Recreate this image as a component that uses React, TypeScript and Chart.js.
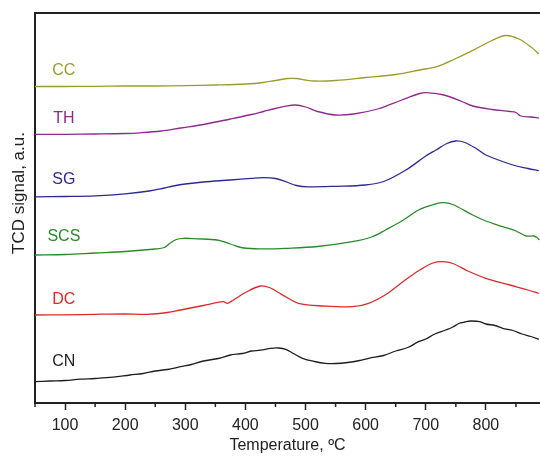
import { useEffect, useRef } from "react";
import { Chart, registerables } from "chart.js";
Chart.register(...registerables);

const majorTicks = [100, 200, 300, 400, 500, 600, 700, 800];
const minorTicks = [50, 150, 250, 350, 450, 550, 650, 750, 850];

const ccT = [50, 100, 150, 200, 250, 300, 350, 400, 430, 450, 470, 485, 500, 515, 550, 600, 650, 690, 720, 750, 780, 810, 833, 855, 875, 888];
const ccY = [316.5, 316.5, 316.7, 317, 317, 317.4, 318, 319, 320.5, 322.5, 324.5, 324.5, 323, 322, 322.5, 325.5, 328.5, 333, 336.7, 344.5, 353.2, 362.5, 367.5, 364, 356, 349];

const thT = [50, 100, 150, 200, 225, 260, 292, 330, 375, 410, 430, 450, 467, 483, 500, 520, 550, 580, 620, 660, 690, 705, 730, 760, 778, 810, 840, 850, 858, 875, 888];
const thY = [268.7, 268.7, 269, 269.5, 270.2, 272, 275, 278.5, 284, 288.5, 291.5, 294.5, 296.8, 298, 296, 291.5, 288, 289, 294, 303, 309.5, 310.2, 308, 301.5, 297, 293.5, 291.5, 290.5, 287, 286, 285];

const sgT = [50, 100, 150, 200, 240, 265, 280, 300, 330, 375, 410, 430, 450, 467, 485, 505, 550, 600, 630, 667, 700, 717, 735, 750, 765, 785, 800, 845, 870, 888];
const sgY = [206.2, 206.5, 207.2, 209.2, 212, 215, 217, 219, 221, 223, 224.7, 225.4, 224.5, 221.3, 217.5, 216.2, 216.7, 218, 221.5, 233, 247, 253, 259.5, 262, 260.5, 254, 248, 238, 234.5, 232.3];

const scsT = [50, 100, 150, 200, 250, 265, 275, 285, 297, 320, 353, 375, 397, 430, 467, 520, 578, 610, 633, 660, 688, 710, 728, 745, 778, 800, 828, 850, 867, 880, 885, 889];
const scsY = [148, 148.5, 150, 151.5, 154, 155.5, 160, 163.5, 164.7, 164.2, 163, 159, 155, 154.2, 154.7, 156.5, 161.3, 166, 173, 182, 193, 198, 200.3, 198.5, 188, 182, 176.3, 172, 167, 167, 165.5, 163];

const dcT = [50, 100, 150, 200, 237, 270, 292, 330, 363, 370, 380, 400, 425, 440, 455, 467, 488, 530, 578, 605, 635, 662, 690, 712, 728, 745, 770, 800, 840, 870, 888];
const dcY = [88, 88.2, 88.7, 89, 88.7, 90.5, 93, 97.5, 101.3, 99.7, 103, 110.5, 117, 115.5, 110.5, 106.3, 99.7, 97, 96.3, 99.7, 109, 121.3, 133, 140, 141.3, 139.5, 132, 124.7, 118, 113, 109.7];

const cnT = [50, 75, 100, 125, 150, 180, 208, 230, 250, 270, 292, 310, 330, 355, 375, 395, 410, 425, 442, 455, 467, 480, 495, 515, 533, 550, 570, 590, 605, 630, 650, 670, 688, 700, 715, 733, 745, 755, 765, 775, 790, 800, 815, 828, 845, 860, 875, 888];
const cnY = [21.3, 22, 22.5, 23.8, 24.5, 25.8, 28, 29.5, 32, 33.5, 36.3, 38.5, 42, 44.5, 48, 49.5, 52, 52.8, 54.7, 55, 53.7, 49.5, 44.7, 41.5, 39.7, 39.5, 40.5, 42.5, 44.7, 47.5, 52, 55.5, 61.3, 64, 69, 73, 76, 79.5, 81, 82, 81.3, 79, 77.5, 74.7, 72.5, 69, 66.5, 63.7];

const seriesNames = ["CC", "TH", "SG", "SCS", "DC", "CN"];
const seriesColors = ["#9c9c2e", "#8e2a8e", "#2b2b92", "#2a8a2a", "#e02828", "#1e1e1e"];
const seriesT = [ccT, thT, sgT, scsT, dcT, cnT];
const seriesY = [ccY, thY, sgY, scsY, dcY, cnY];

const labelAnchorT = [98, 98, 98, 98, 98, 98];
const labelAnchorY = [332, 284.5, 223.7, 166.3, 103.7, 41.3];

const FONT = "'Liberation Sans', Arial, sans-serif";

export default function App() {
  const ref = useRef<HTMLCanvasElement | null>(null);
  useEffect(() => {
    if (!ref.current) return;
    const extras = {
      id: "extras",
      afterDraw(chart: any) {
        const ctx = chart.ctx;
        const { left, right, top, bottom } = chart.chartArea;
        const xs = chart.scales.x;
        const ys = chart.scales.y;
        ctx.save();
        ctx.strokeStyle = "#222";
        ctx.lineWidth = 2;
        ctx.beginPath();
        ctx.moveTo(left - 1, top);
        ctx.lineTo(right + 2, top);
        ctx.stroke();
        ctx.lineWidth = 1.5;
        minorTicks.forEach((v) => {
          const px = xs.getPixelForValue(v);
          ctx.beginPath();
          ctx.moveTo(px, bottom);
          ctx.lineTo(px, bottom + 4);
          ctx.stroke();
        });
        ctx.font = `16px ${FONT}`;
        ctx.textAlign = "center";
        ctx.textBaseline = "middle";
        seriesNames.forEach((n, i) => {
          ctx.fillStyle = seriesColors[i];
          ctx.fillText(n, xs.getPixelForValue(labelAnchorT[i]), ys.getPixelForValue(labelAnchorY[i]));
        });
        ctx.fillStyle = "#222";
        ctx.font = `17px ${FONT}`;
        ctx.translate(19.5, 193);
        ctx.rotate(-Math.PI / 2);
        ctx.fillText("TCD signal, a.u.", 0, 0);
        ctx.restore();
      },
    };
    const chart = new Chart(ref.current, {
      type: "line",
      data: {
        datasets: seriesNames.map((n, i) => ({
          label: n,
          data: seriesT[i].map((t, j) => ({ x: t, y: seriesY[i][j] })),
          borderColor: seriesColors[i],
          borderWidth: 1.3,
          pointRadius: 0,
          fill: false,
          tension: 0.35,
        })),
      },
      options: {
        responsive: false,
        animation: false,
        maintainAspectRatio: false,
        layout: { padding: { top: 13, left: 0, right: 0, bottom: 0 } },
        plugins: { legend: { display: false }, tooltip: { enabled: false } },
        scales: {
          x: {
            type: "linear",
            min: 50,
            max: 890,
            afterBuildTicks: (scale: any) => {
              scale.ticks = majorTicks.map((v) => ({ value: v }));
            },
            afterFit: (scale: any) => {
              scale.height = 54;
            },
            ticks: {
              autoSkip: false,
              maxRotation: 0,
              padding: 6,
              color: "#222",
              font: { size: 16, family: FONT },
              callback: (v: any) => String(v),
            },
            grid: {
              drawOnChartArea: false,
              drawTicks: true,
              tickLength: 7,
              tickColor: "#222",
              tickWidth: 1.5,
            },
            border: { display: true, color: "#222", width: 2 },
            title: {
              display: true,
              text: "Temperature, ºC",
              color: "#222",
              font: { size: 16, family: FONT },
              padding: { top: 2, bottom: 2 },
            },
          },
          y: {
            type: "linear",
            min: 0,
            max: 390,
            afterFit: (scale: any) => {
              scale.width = 35;
            },
            ticks: { display: false },
            grid: { display: false, drawTicks: false },
            border: { display: true, color: "#222", width: 2 },
          },
        },
      },
      plugins: [extras],
    });
    return () => chart.destroy();
  }, []);
  return (
    <div style={{ position: "fixed", left: 0, top: 0, width: 540, height: 457, overflow: "hidden", background: "#fff" }}>
      <canvas ref={ref} width={540} height={457} />
    </div>
  );
}
